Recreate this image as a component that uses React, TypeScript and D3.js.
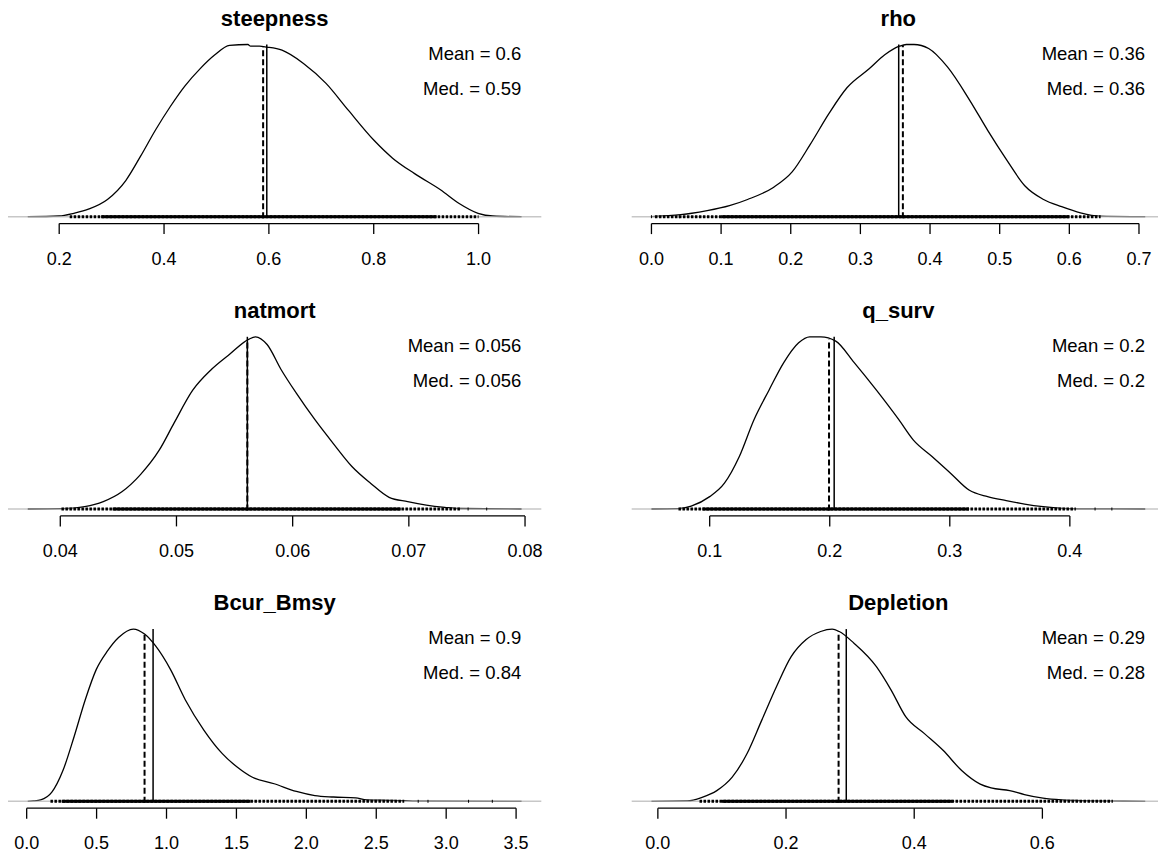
import React from 'react';
import * as d3 from 'd3';

// panel titles, row by row
const panelNames = ['steepness', 'rho', 'natmort', 'q_surv', 'Bcur_Bmsy', 'Depletion'];

// density curves (height relative to each panel's peak)
const steepnessX = [0.14, 0.2, 0.228, 0.257, 0.292, 0.327, 0.355, 0.384, 0.412, 0.44, 0.469, 0.497, 0.525, 0.56, 0.565, 0.582, 0.596, 0.625, 0.666, 0.709, 0.751, 0.8, 0.836, 0.878, 0.928, 0.963, 0.999, 1.027, 1.082];
const steepnessD = [0, 0.004, 0.02, 0.045, 0.1, 0.21, 0.35, 0.505, 0.64, 0.76, 0.86, 0.94, 0.995, 1.0, 0.99, 0.99, 0.985, 0.967, 0.89, 0.774, 0.62, 0.445, 0.34, 0.25, 0.155, 0.077, 0.02, 0.004, 0];

const rhoX = [0.0, 0.042, 0.058, 0.08, 0.112, 0.138, 0.175, 0.202, 0.228, 0.255, 0.281, 0.313, 0.335, 0.356, 0.366, 0.377, 0.398, 0.425, 0.457, 0.483, 0.51, 0.536, 0.563, 0.589, 0.616, 0.632, 0.653, 0.709];
const rhoD = [0, 0.012, 0.02, 0.035, 0.064, 0.1, 0.17, 0.26, 0.42, 0.6, 0.75, 0.86, 0.94, 0.99, 1.0, 1.0, 0.977, 0.87, 0.676, 0.5, 0.33, 0.18, 0.1, 0.058, 0.022, 0.008, 0.002, 0];

const natmortX = [0.0372, 0.0401, 0.0421, 0.0437, 0.0453, 0.0469, 0.0485, 0.0498, 0.0514, 0.053, 0.0546, 0.0562, 0.0568, 0.0578, 0.059, 0.0603, 0.0619, 0.0635, 0.0651, 0.0667, 0.0683, 0.0699, 0.0715, 0.0731, 0.0744, 0.0797];
const natmortD = [0, 0.002, 0.014, 0.043, 0.1, 0.2, 0.34, 0.5, 0.69, 0.81, 0.9, 0.985, 1.0, 0.955, 0.81, 0.674, 0.52, 0.38, 0.247, 0.15, 0.068, 0.043, 0.023, 0.01, 0.003, 0];

const qSurvX = [0.0515, 0.0738, 0.0846, 0.1, 0.1123, 0.1247, 0.137, 0.1494, 0.1617, 0.1741, 0.1833, 0.1926, 0.205, 0.2204, 0.2389, 0.2574, 0.2697, 0.2852, 0.3006, 0.316, 0.3315, 0.347, 0.3623, 0.3778, 0.3932, 0.4071, 0.4628];
const qSurvD = [0, 0.002, 0.017, 0.072, 0.15, 0.305, 0.52, 0.69, 0.85, 0.965, 1.0, 1.0, 0.975, 0.85, 0.69, 0.52, 0.4, 0.305, 0.208, 0.11, 0.072, 0.049, 0.029, 0.014, 0.004, 0.001, 0];

const bcurX = [0.0077, 0.048, 0.1, 0.18, 0.26, 0.339, 0.419, 0.498, 0.578, 0.657, 0.763, 0.843, 0.922, 1.028, 1.134, 1.267, 1.399, 1.505, 1.611, 1.77, 1.929, 2.061, 2.194, 2.353, 2.432, 2.59, 2.7, 2.78, 3.539];
const bcurD = [0, 0.002, 0.008, 0.053, 0.18, 0.375, 0.59, 0.766, 0.873, 0.951, 1.0, 0.971, 0.902, 0.766, 0.59, 0.414, 0.277, 0.199, 0.141, 0.102, 0.057, 0.033, 0.025, 0.02, 0.008, 0.006, 0.004, 0.001, 0];

const depletionX = [-0.01, 0.046, 0.069, 0.092, 0.116, 0.139, 0.162, 0.185, 0.208, 0.231, 0.254, 0.272, 0.283, 0.306, 0.341, 0.364, 0.387, 0.416, 0.445, 0.474, 0.503, 0.52, 0.549, 0.572, 0.601, 0.63, 0.659, 0.708, 0.7605];
const depletionD = [0, 0.002, 0.023, 0.062, 0.14, 0.276, 0.47, 0.665, 0.84, 0.938, 0.986, 1.0, 0.986, 0.918, 0.782, 0.646, 0.49, 0.393, 0.296, 0.179, 0.1, 0.078, 0.062, 0.039, 0.018, 0.008, 0.004, 0.001, 0];

// summary stats
const means = [0.596, 0.355, 0.0561, 0.2037, 0.904, 0.294];
const medians = [0.589, 0.361, 0.0561, 0.1994, 0.843, 0.282];
const meanLabels = ['0.6', '0.36', '0.056', '0.2', '0.9', '0.29'];
const medLabels = ['0.59', '0.36', '0.056', '0.2', '0.84', '0.28'];

// x axis ticks
const steepnessTicks = [0.2, 0.4, 0.6, 0.8, 1.0];
const rhoTicks = [0, 0.1, 0.2, 0.3, 0.4, 0.5, 0.6, 0.7];
const natmortTicks = [0.04, 0.05, 0.06, 0.07, 0.08];
const qSurvTicks = [0.1, 0.2, 0.3, 0.4];
const bcurTicks = [0, 0.5, 1.0, 1.5, 2.0, 2.5, 3.0, 3.5];
const depletionTicks = [0, 0.2, 0.4, 0.6];
const tickFormats = ['.1f', '.1f', '.2f', '.1f', '.1f', '.1f'];

// rug: [sparse from, dense from, dense to, sparse to] and stray samples
const rugSpans = [
  [0.22, 0.28, 0.92, 1.0],
  [0.005, 0.1, 0.6, 0.645],
  [0.0401, 0.0445, 0.0693, 0.0744],
  [0.074, 0.094, 0.316, 0.405],
  [0.17, 0.25, 1.6, 2.7],
  [0.065, 0.1, 0.46, 0.71],
];
const rugStray = [[], [0.0, 0.04], [0.0751, 0.0767], [0.421, 0.435], [2.8, 2.87, 3.16, 3.33], []];

const curvesX = [steepnessX, rhoX, natmortX, qSurvX, bcurX, depletionX];
const curvesD = [steepnessD, rhoD, natmortD, qSurvD, bcurD, depletionD];
const ticks = [steepnessTicks, rhoTicks, natmortTicks, qSurvTicks, bcurTicks, depletionTicks];

const FONT = '"Liberation Sans", Arial, Helvetica, sans-serif';
const colX = [8, 631.7];
const plotW = 533.3;
const rowY = [0, 292.3, 584.6];
const plotTop = 37.6;
const plotBottom = 223.6;

function interp(xs: number[], ds: number[], v: number) {
  const i = d3.bisectLeft(xs, v);
  if (i <= 0) return ds[0];
  if (i >= xs.length) return ds[ds.length - 1];
  const t = (v - xs[i - 1]) / (xs[i] - xs[i - 1]);
  return ds[i - 1] + t * (ds[i] - ds[i - 1]);
}

const Panel: React.FC<{ i: number }> = ({ i }) => {
  const xs = curvesX[i];
  const ds = curvesD[i];
  const lo = xs[0];
  const hi = xs[xs.length - 1];
  const pad = (hi - lo) * 0.04;
  const x0 = colX[i % 2];
  const oy = rowY[Math.floor(i / 2)];
  const x = d3.scaleLinear().domain([lo - pad, hi + pad]).range([x0, x0 + plotW]);
  const dmax = d3.max(ds) as number;
  const ypad = dmax * 0.04;
  const y = d3.scaleLinear().domain([-ypad, dmax + ypad]).range([oy + plotBottom, oy + plotTop]);

  const pts = xs.map((v, k) => [v, ds[k]] as [number, number]);
  const line = d3.line<[number, number]>()
    .x(d => x(d[0]))
    .y(d => y(d[1]))
    .curve(d3.curveMonotoneX);

  const y0 = y(0);
  const fmt = d3.format(tickFormats[i]);
  const tk = ticks[i];
  const axisY = oy + plotBottom;
  const [s0, dn0, dn1, s1] = rugSpans[i];
  const medTop = interp(xs, ds, medians[i]);

  return (
    <g>
      <text x={x0 + plotW / 2} y={oy + 18} textAnchor="middle" dominantBaseline="central"
        fontFamily={FONT} fontWeight="bold" fontSize={22}>{panelNames[i]}</text>
      <path d={line(pts) || ''} fill="none" stroke="#000" strokeWidth={1.3} />
      <line x1={x0} x2={x0 + plotW} y1={y0} y2={y0} stroke="#b4b4b4" strokeOpacity={0.75} strokeWidth={1.5} />
      {/* rug */}
      <line x1={x(s0)} x2={x(s1)} y1={y0} y2={y0} stroke="#000" strokeWidth={3} strokeDasharray="2.5 1.5" />
      <rect x={x(dn0)} width={x(dn1) - x(dn0)} y={y0 - 1.5} height={3} fill="#000" />
      {rugStray[i].map((v, k) => (
        <line key={k} x1={x(v)} x2={x(v)} y1={y0 - 1.5} y2={y0 + 1.5} stroke="#000" strokeWidth={1} />
      ))}
      {/* median (dashed) and mean (solid) */}
      <line x1={x(medians[i])} x2={x(medians[i])} y1={y0 + 1.5} y2={y(medTop)} stroke="#000"
        strokeWidth={2} strokeDasharray="6 3" />
      <line x1={x(means[i])} x2={x(means[i])} y1={y0} y2={y(dmax)} stroke="#000" strokeWidth={1.5} />
      <text x={x0 + plotW - 20} y={oy + 53} textAnchor="end" dominantBaseline="central"
        fontFamily={FONT} fontSize={18.5}>{`Mean = ${meanLabels[i]}`}</text>
      <text x={x0 + plotW - 20} y={oy + 88} textAnchor="end" dominantBaseline="central"
        fontFamily={FONT} fontSize={18.5}>{`Med. = ${medLabels[i]}`}</text>
      {/* x axis */}
      <line x1={x(tk[0])} x2={x(tk[tk.length - 1])} y1={axisY} y2={axisY} stroke="#000" strokeWidth={1.3} />
      {tk.map((t, k) => (
        <g key={k}>
          <line x1={x(t)} x2={x(t)} y1={axisY} y2={axisY + 10.5} stroke="#000" strokeWidth={1.3} />
          <text x={x(t)} y={axisY + 35} textAnchor="middle" dominantBaseline="central"
            fontFamily={FONT} fontSize={18}>{fmt(t)}</text>
        </g>
      ))}
    </g>
  );
};

export default function App() {
  return (
    <svg width={1158} height={860} style={{ position: 'absolute', left: 0, top: 0, background: '#fff' }}>
      <rect width={1158} height={860} fill="#fff" />
      {panelNames.map((_, i) => <Panel key={i} i={i} />)}
    </svg>
  );
}
